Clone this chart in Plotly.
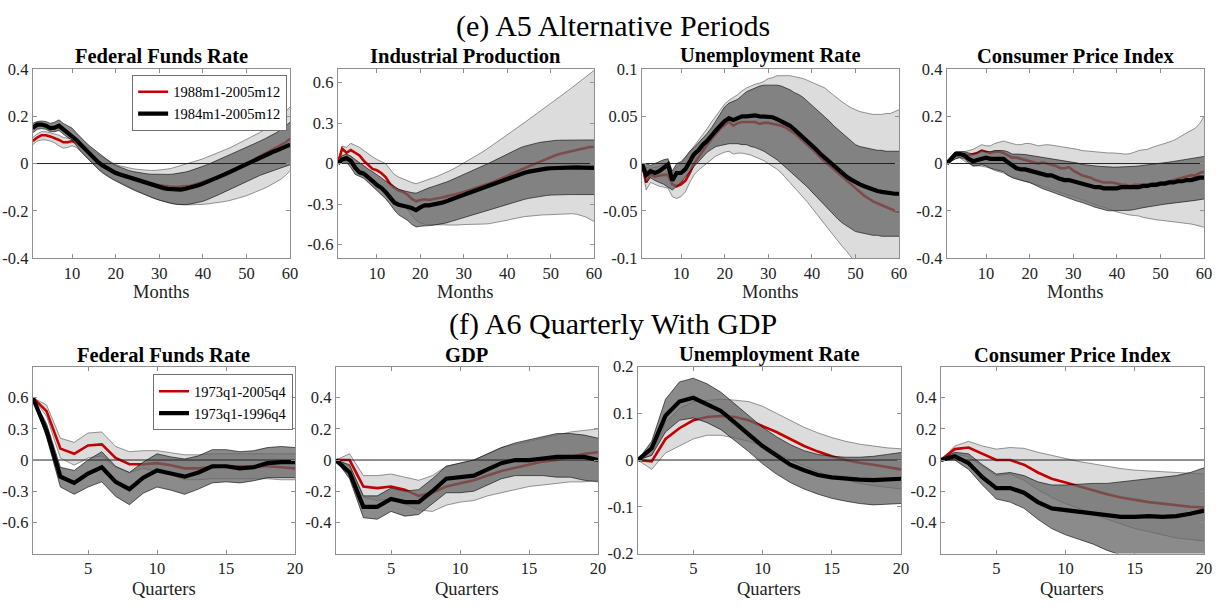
import plotly.graph_objects as go

MONTHS = list(range(1, 61))
QUARTERS = list(range(1, 21))

# ---------------- (e) A5 Alternative Periods : monthly ----------------
FFR_M_RED = [0.095, 0.110, 0.120, 0.120, 0.115, 0.108, 0.100, 0.090, 0.090, 0.095,
             0.088, 0.074, 0.056, 0.038, 0.022, 0.007, -0.006, -0.017, -0.027, -0.036,
             -0.042, -0.048, -0.054, -0.060, -0.066, -0.072, -0.078, -0.083, -0.088, -0.092,
             -0.095, -0.097, -0.099, -0.100, -0.099, -0.097, -0.094, -0.090, -0.085, -0.080,
             -0.074, -0.067, -0.060, -0.052, -0.044, -0.036, -0.027, -0.018, -0.009, 0.000,
             0.010, 0.020, 0.030, 0.040, 0.050, 0.060, 0.070, 0.080, 0.090, 0.105]
FFR_M_BLACK = [0.150, 0.165, 0.165, 0.160, 0.150, 0.152, 0.160, 0.145, 0.130, 0.120,
               0.100, 0.080, 0.060, 0.040, 0.022, 0.006, -0.008, -0.020, -0.030, -0.040,
               -0.046, -0.052, -0.058, -0.065, -0.071, -0.077, -0.083, -0.089, -0.095, -0.100,
               -0.104, -0.107, -0.109, -0.110, -0.110, -0.107, -0.103, -0.098, -0.092, -0.085,
               -0.078, -0.070, -0.062, -0.054, -0.046, -0.037, -0.028, -0.019, -0.010, -0.001,
               0.008, 0.017, 0.025, 0.033, 0.041, 0.049, 0.056, 0.064, 0.071, 0.080]
FFR_M_LIGHT_UP = [0.110, 0.125, 0.135, 0.135, 0.130, 0.125, 0.120, 0.110, 0.108, 0.110,
                  0.105, 0.092, 0.078, 0.063, 0.050, 0.038, 0.026, 0.015, 0.005, -0.004,
                  -0.010, -0.015, -0.019, -0.022, -0.025, -0.027, -0.028, -0.029, -0.029, -0.028,
                  -0.026, -0.023, -0.019, -0.014, -0.009, -0.004, 0.002, 0.008, 0.014, 0.020,
                  0.027, 0.034, 0.041, 0.049, 0.057, 0.065, 0.074, 0.083, 0.092, 0.101,
                  0.111, 0.121, 0.131, 0.142, 0.153, 0.166, 0.180, 0.200, 0.220, 0.240]
FFR_M_LIGHT_LO = [0.080, 0.095, 0.100, 0.100, 0.095, 0.088, 0.075, 0.065, 0.068, 0.075,
                  0.068, 0.052, 0.034, 0.015, -0.004, -0.020, -0.035, -0.048, -0.060, -0.070,
                  -0.080, -0.089, -0.098, -0.107, -0.116, -0.125, -0.133, -0.141, -0.148, -0.155,
                  -0.160, -0.165, -0.169, -0.172, -0.174, -0.175, -0.175, -0.175, -0.174, -0.173,
                  -0.171, -0.169, -0.167, -0.164, -0.161, -0.157, -0.153, -0.148, -0.142, -0.136,
                  -0.129, -0.122, -0.114, -0.106, -0.097, -0.087, -0.077, -0.065, -0.050, -0.030]
FFR_M_DARK_UP = [0.170, 0.178, 0.180, 0.178, 0.170, 0.175, 0.185, 0.170, 0.160, 0.150,
                 0.130, 0.110, 0.092, 0.075, 0.060, 0.045, 0.030, 0.015, 0.003, -0.008,
                 -0.016, -0.023, -0.029, -0.034, -0.038, -0.041, -0.043, -0.045, -0.046, -0.046,
                 -0.046, -0.046, -0.045, -0.043, -0.040, -0.036, -0.031, -0.025, -0.019, -0.012,
                 -0.005, 0.003, 0.011, 0.019, 0.027, 0.035, 0.043, 0.051, 0.059, 0.067,
                 0.076, 0.085, 0.094, 0.103, 0.112, 0.122, 0.132, 0.145, 0.160, 0.175]
FFR_M_DARK_LO = [0.130, 0.145, 0.148, 0.145, 0.135, 0.135, 0.140, 0.125, 0.110, 0.100,
                 0.075, 0.052, 0.032, 0.012, -0.007, -0.024, -0.040, -0.053, -0.064, -0.074,
                 -0.084, -0.093, -0.102, -0.111, -0.119, -0.127, -0.135, -0.142, -0.149, -0.155,
                 -0.161, -0.166, -0.170, -0.173, -0.175, -0.174, -0.172, -0.169, -0.165, -0.160,
                 -0.153, -0.146, -0.138, -0.129, -0.120, -0.111, -0.102, -0.093, -0.084, -0.075,
                 -0.067, -0.059, -0.051, -0.044, -0.037, -0.030, -0.023, -0.016, -0.010, -0.005]

IP_M_RED = [0.000, 0.110, 0.080, 0.100, 0.080, 0.060, 0.020, -0.010, -0.040, -0.050,
            -0.070, -0.100, -0.150, -0.180, -0.200, -0.210, -0.230, -0.260, -0.280, -0.270,
            -0.265, -0.270, -0.262, -0.257, -0.252, -0.245, -0.238, -0.230, -0.220, -0.210,
            -0.200, -0.190, -0.180, -0.170, -0.160, -0.148, -0.135, -0.120, -0.105, -0.090,
            -0.076, -0.062, -0.048, -0.034, -0.020, -0.008, 0.006, 0.020, 0.034, 0.048,
            0.060, 0.070, 0.078, 0.086, 0.094, 0.102, 0.110, 0.118, 0.122, 0.123]
IP_M_BLACK = [0.000, 0.030, 0.040, 0.020, -0.030, -0.065, -0.075, -0.100, -0.130, -0.160,
              -0.180, -0.210, -0.250, -0.290, -0.305, -0.310, -0.320, -0.330, -0.345, -0.325,
              -0.310, -0.310, -0.305, -0.298, -0.290, -0.280, -0.270, -0.257, -0.244, -0.232,
              -0.220, -0.208, -0.196, -0.184, -0.172, -0.160, -0.148, -0.135, -0.122, -0.110,
              -0.098, -0.087, -0.077, -0.068, -0.060, -0.053, -0.047, -0.042, -0.038, -0.035,
              -0.033, -0.031, -0.030, -0.029, -0.029, -0.029, -0.030, -0.030, -0.031, -0.032]
IP_M_LIGHT_UP = [0.000, 0.130, 0.120, 0.150, 0.135, 0.120, 0.095, 0.070, 0.050, 0.030,
                 0.015, 0.000, -0.040, -0.080, -0.100, -0.115, -0.128, -0.140, -0.150, -0.140,
                 -0.128, -0.115, -0.105, -0.093, -0.080, -0.065, -0.050, -0.033, -0.015, 0.005,
                 0.023, 0.042, 0.060, 0.080, 0.100, 0.122, 0.144, 0.166, 0.188, 0.210,
                 0.233, 0.256, 0.280, 0.304, 0.328, 0.351, 0.374, 0.397, 0.420, 0.443,
                 0.467, 0.491, 0.515, 0.540, 0.565, 0.590, 0.615, 0.640, 0.665, 0.690]
IP_M_LIGHT_LO = [0.000, 0.040, 0.050, 0.020, -0.020, -0.050, -0.080, -0.100, -0.120, -0.140,
                 -0.170, -0.205, -0.240, -0.265, -0.285, -0.305, -0.340, -0.380, -0.420, -0.440,
                 -0.450, -0.452, -0.454, -0.455, -0.455, -0.455, -0.456, -0.457, -0.455, -0.452,
                 -0.452, -0.451, -0.450, -0.450, -0.448, -0.445, -0.440, -0.433, -0.426, -0.420,
                 -0.412, -0.405, -0.398, -0.393, -0.390, -0.386, -0.383, -0.381, -0.380, -0.378,
                 -0.376, -0.374, -0.372, -0.371, -0.372, -0.376, -0.383, -0.395, -0.412, -0.430]
IP_M_DARK_UP = [0.000, 0.060, 0.070, 0.055, 0.030, 0.005, -0.020, -0.040, -0.060, -0.080,
                -0.105, -0.130, -0.150, -0.170, -0.190, -0.200, -0.210, -0.215, -0.220, -0.205,
                -0.190, -0.180, -0.170, -0.160, -0.150, -0.137, -0.124, -0.110, -0.095, -0.080,
                -0.066, -0.052, -0.038, -0.024, -0.010, 0.006, 0.022, 0.038, 0.055, 0.075,
                0.090, 0.104, 0.117, 0.128, 0.138, 0.146, 0.153, 0.159, 0.164, 0.168,
                0.171, 0.173, 0.174, 0.175, 0.175, 0.175, 0.175, 0.175, 0.175, 0.175]
IP_M_DARK_LO = [0.000, 0.010, 0.010, -0.030, -0.080, -0.095, -0.110, -0.140, -0.170, -0.200,
                -0.225, -0.260, -0.300, -0.345, -0.380, -0.400, -0.420, -0.450, -0.470, -0.465,
                -0.460, -0.460, -0.457, -0.453, -0.448, -0.440, -0.430, -0.420, -0.410, -0.400,
                -0.390, -0.380, -0.370, -0.360, -0.350, -0.340, -0.330, -0.320, -0.310, -0.300,
                -0.291, -0.282, -0.273, -0.265, -0.258, -0.252, -0.246, -0.241, -0.237, -0.234,
                -0.232, -0.231, -0.230, -0.230, -0.230, -0.230, -0.230, -0.230, -0.230, -0.230]

UR_M_RED = [0.000, -0.020, -0.012, -0.014, -0.013, -0.012, -0.012, -0.022, -0.024, -0.022,
            -0.018, -0.010, 0.000, 0.007, 0.014, 0.020, 0.026, 0.032, 0.037, 0.041,
            0.044, 0.040, 0.043, 0.044, 0.044, 0.044, 0.044, 0.042, 0.043, 0.043,
            0.042, 0.041, 0.040, 0.038, 0.035, 0.032, 0.028, 0.024, 0.020, 0.016,
            0.011, 0.006, 0.002, -0.002, -0.006, -0.011, -0.015, -0.019, -0.023, -0.027,
            -0.030, -0.034, -0.037, -0.040, -0.042, -0.044, -0.046, -0.048, -0.050, -0.051]
UR_M_BLACK = [0.000, -0.012, -0.008, -0.010, -0.008, -0.005, -0.001, -0.018, -0.010, -0.010,
              -0.006, 0.002, 0.010, 0.014, 0.020, 0.024, 0.030, 0.035, 0.040, 0.045,
              0.048, 0.046, 0.048, 0.050, 0.050, 0.051, 0.051, 0.050, 0.050, 0.050,
              0.049, 0.047, 0.045, 0.043, 0.040, 0.036, 0.032, 0.028, 0.024, 0.020,
              0.015, 0.010, 0.006, 0.002, -0.003, -0.007, -0.011, -0.014, -0.017, -0.020,
              -0.022, -0.024, -0.026, -0.028, -0.029, -0.030, -0.031, -0.032, -0.032, -0.032]
UR_M_LIGHT_UP = [0.000, -0.004, -0.005, -0.004, -0.003, -0.001, 0.000, -0.010, -0.004, 0.000,
                 0.006, 0.012, 0.018, 0.024, 0.030, 0.037, 0.044, 0.050, 0.057, 0.063,
                 0.067, 0.070, 0.073, 0.077, 0.080, 0.082, 0.084, 0.085, 0.087, 0.090,
                 0.091, 0.093, 0.093, 0.093, 0.093, 0.092, 0.091, 0.090, 0.088, 0.086,
                 0.084, 0.082, 0.080, 0.076, 0.072, 0.069, 0.065, 0.062, 0.059, 0.057,
                 0.055, 0.054, 0.053, 0.052, 0.052, 0.052, 0.053, 0.053, 0.055, 0.057]
UR_M_LIGHT_LO = [0.000, -0.028, -0.020, -0.022, -0.024, -0.025, -0.026, -0.035, -0.037, -0.035,
                 -0.030, -0.020, -0.012, -0.007, -0.003, 0.001, 0.005, 0.008, 0.010, 0.012,
                 0.013, 0.010, 0.011, 0.011, 0.010, 0.009, 0.007, 0.005, 0.003, 0.000,
                 -0.003, -0.006, -0.010, -0.015, -0.020, -0.025, -0.030, -0.035, -0.041, -0.047,
                 -0.053, -0.059, -0.065, -0.071, -0.077, -0.082, -0.088, -0.093, -0.099, -0.105,
                 -0.109, -0.113, -0.117, -0.121, -0.125, -0.128, -0.131, -0.134, -0.137, -0.140]
UR_M_DARK_UP = [0.000, 0.000, -0.002, 0.000, 0.002, 0.004, 0.005, -0.008, 0.000, 0.002,
                0.007, 0.013, 0.017, 0.022, 0.026, 0.032, 0.038, 0.045, 0.053, 0.060,
                0.064, 0.066, 0.068, 0.072, 0.076, 0.078, 0.080, 0.082, 0.083, 0.083,
                0.083, 0.083, 0.082, 0.080, 0.078, 0.075, 0.073, 0.070, 0.066, 0.062,
                0.058, 0.054, 0.050, 0.045, 0.040, 0.036, 0.031, 0.027, 0.023, 0.020,
                0.018, 0.017, 0.016, 0.015, 0.014, 0.014, 0.013, 0.013, 0.013, 0.013]
UR_M_DARK_LO = [0.000, -0.020, -0.015, -0.018, -0.020, -0.022, -0.025, -0.028, -0.024, -0.020,
                -0.014, -0.008, -0.003, 0.002, 0.007, 0.012, 0.015, 0.018, 0.019, 0.020,
                0.021, 0.021, 0.021, 0.020, 0.020, 0.018, 0.017, 0.015, 0.013, 0.010,
                0.007, 0.004, 0.000, -0.004, -0.008, -0.012, -0.016, -0.020, -0.025, -0.030,
                -0.035, -0.040, -0.045, -0.050, -0.055, -0.059, -0.063, -0.066, -0.069, -0.072,
                -0.073, -0.074, -0.075, -0.076, -0.076, -0.077, -0.077, -0.077, -0.077, -0.077]

CPI_M_RED = [0.000, 0.020, 0.040, 0.040, 0.035, 0.035, 0.040, 0.045, 0.055, 0.050,
             0.045, 0.050, 0.050, 0.045, 0.035, 0.025, 0.025, 0.020, 0.015, 0.010,
             0.005, 0.000, 0.005, 0.000, -0.005, -0.010, -0.020, -0.020, -0.015, -0.030,
             -0.040, -0.050, -0.055, -0.060, -0.070, -0.075, -0.080, -0.080, -0.080, -0.085,
             -0.090, -0.090, -0.095, -0.090, -0.090, -0.090, -0.090, -0.085, -0.085, -0.080,
             -0.080, -0.075, -0.070, -0.065, -0.060, -0.055, -0.050, -0.050, -0.040, -0.035]
CPI_M_BLACK = [0.000, 0.020, 0.040, 0.040, 0.035, 0.020, 0.010, 0.015, 0.020, 0.025,
               0.020, 0.020, 0.020, 0.020, 0.005, -0.010, -0.020, -0.025, -0.025, -0.030,
               -0.035, -0.040, -0.045, -0.050, -0.050, -0.060, -0.065, -0.070, -0.070, -0.075,
               -0.080, -0.085, -0.090, -0.095, -0.100, -0.100, -0.105, -0.105, -0.105, -0.105,
               -0.100, -0.100, -0.100, -0.100, -0.100, -0.095, -0.095, -0.090, -0.090, -0.085,
               -0.085, -0.080, -0.080, -0.075, -0.075, -0.070, -0.070, -0.065, -0.060, -0.060]
CPI_M_LIGHT_UP = [0.000, 0.030, 0.050, 0.050, 0.050, 0.055, 0.060, 0.070, 0.080, 0.075,
                  0.075, 0.085, 0.090, 0.095, 0.090, 0.085, 0.080, 0.080, 0.085, 0.085,
                  0.080, 0.075, 0.078, 0.080, 0.078, 0.075, 0.072, 0.070, 0.068, 0.065,
                  0.060, 0.055, 0.053, 0.050, 0.050, 0.048, 0.046, 0.045, 0.045, 0.045,
                  0.042, 0.040, 0.042, 0.048, 0.055, 0.058, 0.060, 0.068, 0.075, 0.080,
                  0.085, 0.090, 0.098, 0.108, 0.120, 0.130, 0.140, 0.150, 0.170, 0.200]
CPI_M_LIGHT_LO = [0.000, 0.010, 0.020, 0.025, 0.010, 0.000, -0.010, -0.008, -0.010, -0.015,
                  -0.020, -0.030, -0.035, -0.040, -0.050, -0.055, -0.062, -0.070, -0.075, -0.080,
                  -0.085, -0.090, -0.097, -0.103, -0.110, -0.117, -0.123, -0.130, -0.135, -0.140,
                  -0.147, -0.153, -0.160, -0.168, -0.175, -0.180, -0.185, -0.190, -0.198, -0.205,
                  -0.210, -0.215, -0.218, -0.220, -0.222, -0.228, -0.232, -0.235, -0.238, -0.240,
                  -0.242, -0.244, -0.245, -0.247, -0.250, -0.253, -0.256, -0.260, -0.265, -0.270]
CPI_M_DARK_UP = [0.000, 0.030, 0.050, 0.050, 0.050, 0.045, 0.040, 0.045, 0.055, 0.050,
                 0.050, 0.055, 0.055, 0.055, 0.050, 0.040, 0.040, 0.040, 0.038, 0.035,
                 0.032, 0.030, 0.027, 0.023, 0.020, 0.017, 0.013, 0.010, 0.008, 0.005,
                 0.002, -0.004, -0.007, -0.009, -0.010, -0.012, -0.014, -0.015, -0.015, -0.015,
                 -0.015, -0.015, -0.014, -0.012, -0.010, -0.008, -0.006, -0.005, -0.003, 0.000,
                 0.003, 0.006, 0.009, 0.012, 0.015, 0.018, 0.021, 0.024, 0.027, 0.030]
CPI_M_DARK_LO = [0.000, 0.010, 0.020, 0.025, 0.020, 0.005, -0.010, -0.010, -0.005, -0.010,
                 -0.020, -0.025, -0.030, -0.035, -0.050, -0.060, -0.066, -0.072, -0.076, -0.080,
                 -0.090, -0.100, -0.107, -0.113, -0.120, -0.127, -0.133, -0.140, -0.148, -0.155,
                 -0.160, -0.165, -0.170, -0.178, -0.185, -0.190, -0.195, -0.200, -0.200, -0.200,
                 -0.200, -0.200, -0.198, -0.195, -0.190, -0.187, -0.184, -0.180, -0.178, -0.175,
                 -0.172, -0.170, -0.168, -0.166, -0.165, -0.162, -0.159, -0.156, -0.153, -0.150]

# ---------------- (f) A6 Quarterly With GDP ----------------
FFR_Q_RED = [0.60, 0.47, 0.11, 0.06, 0.14, 0.15, 0.02, -0.04, -0.04, -0.03,
             -0.05, -0.08, -0.08, -0.07, -0.06, -0.06, -0.06, -0.06, -0.07, -0.08]
FFR_Q_BLACK = [0.60, 0.28, -0.16, -0.22, -0.13, -0.07, -0.21, -0.28, -0.17, -0.10,
               -0.13, -0.16, -0.12, -0.06, -0.06, -0.08, -0.07, -0.03, -0.02, -0.02]
FFR_Q_LIGHT_UP = [0.60, 0.53, 0.21, 0.17, 0.26, 0.27, 0.13, 0.08, 0.09, 0.09,
                  0.07, 0.05, 0.05, 0.06, 0.06, 0.06, 0.06, 0.06, 0.06, 0.06]
FFR_Q_LIGHT_LO = [0.60, 0.42, 0.02, -0.05, 0.02, 0.04, -0.07, -0.12, -0.08, -0.11,
                  -0.14, -0.19, -0.19, -0.18, -0.18, -0.18, -0.18, -0.18, -0.19, -0.19]
FFR_Q_DARK_UP = [0.60, 0.35, -0.07, -0.10, 0.00, 0.08, -0.06, -0.12, -0.02, 0.06,
                 0.03, 0.01, 0.04, 0.10, 0.10, 0.08, 0.09, 0.12, 0.13, 0.12]
FFR_Q_DARK_LO = [0.60, 0.22, -0.26, -0.33, -0.26, -0.21, -0.35, -0.43, -0.32, -0.26,
                 -0.29, -0.33, -0.28, -0.22, -0.21, -0.22, -0.20, -0.17, -0.17, -0.17]

GDP_Q_RED = [0.00, 0.00, -0.17, -0.18, -0.17, -0.19, -0.23, -0.21, -0.17, -0.15,
             -0.13, -0.10, -0.07, -0.05, -0.03, -0.01, 0.00, 0.02, 0.04, 0.05]
GDP_Q_BLACK = [0.00, -0.08, -0.30, -0.30, -0.25, -0.27, -0.27, -0.20, -0.12, -0.11,
               -0.10, -0.06, -0.02, 0.00, 0.00, 0.01, 0.02, 0.02, 0.02, 0.00]
GDP_Q_LIGHT_UP = [0.00, 0.04, -0.10, -0.10, -0.09, -0.11, -0.13, -0.10, -0.04, -0.02,
                  0.00, 0.04, 0.08, 0.10, 0.12, 0.14, 0.16, 0.18, 0.19, 0.20]
GDP_Q_LIGHT_LO = [0.00, -0.04, -0.24, -0.26, -0.25, -0.28, -0.32, -0.33, -0.29, -0.27,
                  -0.26, -0.23, -0.21, -0.19, -0.17, -0.16, -0.15, -0.14, -0.14, -0.13]
GDP_Q_DARK_UP = [0.00, -0.03, -0.23, -0.23, -0.18, -0.20, -0.19, -0.12, -0.04, -0.02,
                 0.00, 0.04, 0.08, 0.11, 0.13, 0.15, 0.17, 0.17, 0.16, 0.14]
GDP_Q_DARK_LO = [0.00, -0.12, -0.37, -0.38, -0.33, -0.36, -0.35, -0.28, -0.21, -0.21,
                 -0.20, -0.16, -0.12, -0.10, -0.10, -0.10, -0.11, -0.11, -0.13, -0.14]

UR_Q_RED = [0.000, -0.003, 0.045, 0.068, 0.085, 0.092, 0.094, 0.092, 0.085, 0.073,
            0.060, 0.045, 0.030, 0.018, 0.008, 0.000, -0.006, -0.010, -0.015, -0.020]
UR_Q_BLACK = [0.000, 0.025, 0.095, 0.125, 0.133, 0.120, 0.105, 0.080, 0.055, 0.030,
              0.010, -0.010, -0.022, -0.032, -0.037, -0.040, -0.042, -0.043, -0.042, -0.040]
UR_Q_LIGHT_UP = [0.000, 0.010, 0.080, 0.110, 0.125, 0.128, 0.130, 0.128, 0.125, 0.115,
                 0.100, 0.085, 0.070, 0.058, 0.048, 0.040, 0.034, 0.030, 0.026, 0.024]
UR_Q_LIGHT_LO = [0.000, -0.020, 0.015, 0.030, 0.045, 0.053, 0.053, 0.047, 0.040, 0.030,
                 0.015, 0.000, -0.012, -0.025, -0.035, -0.043, -0.050, -0.055, -0.058, -0.062]
UR_Q_DARK_UP = [0.000, 0.040, 0.130, 0.167, 0.175, 0.163, 0.145, 0.120, 0.095, 0.070,
                0.050, 0.033, 0.020, 0.012, 0.008, 0.006, 0.006, 0.008, 0.012, 0.016]
UR_Q_DARK_LO = [0.000, 0.010, 0.060, 0.085, 0.090, 0.080, 0.065, 0.042, 0.018, -0.008,
                -0.030, -0.048, -0.062, -0.073, -0.082, -0.088, -0.093, -0.096, -0.095, -0.093]

CPI_Q_RED = [0.000, 0.070, 0.080, 0.040, 0.000, 0.000, -0.030, -0.080, -0.120, -0.145,
             -0.170, -0.195, -0.220, -0.240, -0.255, -0.270, -0.280, -0.290, -0.300, -0.305]
CPI_Q_BLACK = [0.000, 0.025, -0.020, -0.110, -0.180, -0.180, -0.210, -0.270, -0.310, -0.320,
               -0.330, -0.340, -0.355, -0.365, -0.365, -0.360, -0.365, -0.360, -0.345, -0.325]
CPI_Q_LIGHT_UP = [0.000, 0.090, 0.120, 0.090, 0.070, 0.080, 0.075, 0.050, 0.030, 0.010,
                  -0.010, -0.025, -0.040, -0.055, -0.065, -0.070, -0.075, -0.080, -0.085, -0.090]
CPI_Q_LIGHT_LO = [0.000, 0.040, 0.020, -0.040, -0.100, -0.090, -0.130, -0.190, -0.240, -0.280,
                  -0.310, -0.350, -0.380, -0.410, -0.440, -0.460, -0.480, -0.500, -0.510, -0.520]
CPI_Q_DARK_UP = [0.000, 0.050, 0.040, -0.030, -0.090, -0.080, -0.100, -0.140, -0.160, -0.160,
                 -0.155, -0.150, -0.150, -0.140, -0.130, -0.120, -0.110, -0.100, -0.080, -0.050]
CPI_Q_DARK_LO = [0.000, 0.000, -0.060, -0.160, -0.250, -0.270, -0.310, -0.380, -0.440, -0.480,
                 -0.510, -0.540, -0.580, -0.610, -0.640, -0.660, -0.690, -0.710, -0.740, -0.760]

# tick labels
M_XTICKS = [10, 20, 30, 40, 50, 60]
Q_XTICKS = [5, 10, 15, 20]
YT_04 = [-0.4, -0.2, 0, 0.2, 0.4]
YT_04_TXT = ["-0.4", "-0.2", "0", "0.2", "0.4"]
YT_06 = [-0.6, -0.3, 0, 0.3, 0.6]
YT_06_TXT = ["-0.6", "-0.3", "0", "0.3", "0.6"]
YT_01 = [-0.1, -0.05, 0, 0.05, 0.1]
YT_01_TXT = ["-0.1", "-0.05", "0", "0.05", "0.1"]
YT_02 = [-0.2, -0.1, 0, 0.1, 0.2]
YT_02_TXT = ["-0.2", "-0.1", "0", "0.1", "0.2"]

LEG_E = ["1988m1-2005m12", "1984m1-2005m12"]
LEG_F = ["1973q1-2005q4", "1973q1-1996q4"]

panels = [
    dict(title="Federal Funds Rate", x=MONTHS, red=FFR_M_RED, black=FFR_M_BLACK,
         lu=FFR_M_LIGHT_UP, ll=FFR_M_LIGHT_LO, du=FFR_M_DARK_UP, dl=FFR_M_DARK_LO,
         yr=[-0.4, 0.4], yt=YT_04, ytt=YT_04_TXT, xt=M_XTICKS, xtitle="Months", leg="legend", names=LEG_E),
    dict(title="Industrial Production", x=MONTHS, red=IP_M_RED, black=IP_M_BLACK,
         lu=IP_M_LIGHT_UP, ll=IP_M_LIGHT_LO, du=IP_M_DARK_UP, dl=IP_M_DARK_LO,
         yr=[-0.7, 0.7], yt=YT_06, ytt=YT_06_TXT, xt=M_XTICKS, xtitle="Months", leg=None, names=LEG_E),
    dict(title="Unemployment Rate", x=MONTHS, red=UR_M_RED, black=UR_M_BLACK,
         lu=UR_M_LIGHT_UP, ll=UR_M_LIGHT_LO, du=UR_M_DARK_UP, dl=UR_M_DARK_LO,
         yr=[-0.1, 0.1], yt=YT_01, ytt=YT_01_TXT, xt=M_XTICKS, xtitle="Months", leg=None, names=LEG_E),
    dict(title="Consumer Price Index", x=MONTHS, red=CPI_M_RED, black=CPI_M_BLACK,
         lu=CPI_M_LIGHT_UP, ll=CPI_M_LIGHT_LO, du=CPI_M_DARK_UP, dl=CPI_M_DARK_LO,
         yr=[-0.4, 0.4], yt=YT_04, ytt=YT_04_TXT, xt=M_XTICKS, xtitle="Months", leg=None, names=LEG_E),
    dict(title="Federal Funds Rate", x=QUARTERS, red=FFR_Q_RED, black=FFR_Q_BLACK,
         lu=FFR_Q_LIGHT_UP, ll=FFR_Q_LIGHT_LO, du=FFR_Q_DARK_UP, dl=FFR_Q_DARK_LO,
         yr=[-0.9, 0.9], yt=YT_06, ytt=YT_06_TXT, xt=Q_XTICKS, xtitle="Quarters", leg="legend2", names=LEG_F),
    dict(title="GDP", x=QUARTERS, red=GDP_Q_RED, black=GDP_Q_BLACK,
         lu=GDP_Q_LIGHT_UP, ll=GDP_Q_LIGHT_LO, du=GDP_Q_DARK_UP, dl=GDP_Q_DARK_LO,
         yr=[-0.6, 0.6], yt=YT_04, ytt=YT_04_TXT, xt=Q_XTICKS, xtitle="Quarters", leg=None, names=LEG_F),
    dict(title="Unemployment Rate", x=QUARTERS, red=UR_Q_RED, black=UR_Q_BLACK,
         lu=UR_Q_LIGHT_UP, ll=UR_Q_LIGHT_LO, du=UR_Q_DARK_UP, dl=UR_Q_DARK_LO,
         yr=[-0.2, 0.2], yt=YT_02, ytt=YT_02_TXT, xt=Q_XTICKS, xtitle="Quarters", leg=None, names=LEG_F),
    dict(title="Consumer Price Index", x=QUARTERS, red=CPI_Q_RED, black=CPI_Q_BLACK,
         lu=CPI_Q_LIGHT_UP, ll=CPI_Q_LIGHT_LO, du=CPI_Q_DARK_UP, dl=CPI_Q_DARK_LO,
         yr=[-0.6, 0.6], yt=YT_04, ytt=YT_04_TXT, xt=Q_XTICKS, xtitle="Quarters", leg=None, names=LEG_F),
]

# ---------------- layout geometry (pixels in a 1229 x 611 page) ----------------
W, H = 1229, 611
PX_X = [(33, 292), (340, 598), (646, 905), (953, 1212),
        (33, 297), (338, 602), (642, 907), (947, 1212)]
PX_Y = [(62, 257)] * 4 + [(369, 562)] * 4
TITLE_Y = [48] * 4 + [357] * 4
XTITLE_Y = [292] * 4 + [599] * 4

SERIF = "Liberation Serif, Times New Roman, serif"
RED = "#c40000"
LIGHT = "#dcdcdc"
DARK = "rgba(100,100,100,0.75)"
FRAME = "#8f8f8f"

fig = go.Figure()
annotations = []
layout_axes = {}

for i, p in enumerate(panels):
    k = "" if i == 0 else str(i + 1)
    xa, ya = "x" + k, "y" + k
    x = p["x"]
    common = dict(xaxis=xa, yaxis=ya, hoverinfo="skip", mode="lines")
    # light band (red-series confidence band)
    fig.add_trace(go.Scatter(x=x, y=p["ll"], line=dict(color="#505050", width=0.6),
                             showlegend=False, **common))
    fig.add_trace(go.Scatter(x=x, y=p["lu"], line=dict(color="#505050", width=0.6),
                             fill="tonexty", fillcolor=LIGHT, showlegend=False, **common))
    # red line
    fig.add_trace(go.Scatter(x=x, y=p["red"], line=dict(color=RED, width=2.6),
                             name=p["names"][0], showlegend=p["leg"] is not None,
                             legend=p["leg"] or "legend", **common))
    # dark band (black-series confidence band)
    fig.add_trace(go.Scatter(x=x, y=p["dl"], line=dict(color="#000000", width=0.6),
                             showlegend=False, **common))
    fig.add_trace(go.Scatter(x=x, y=p["du"], line=dict(color="#000000", width=0.6),
                             fill="tonexty", fillcolor=DARK, showlegend=False, **common))
    # zero reference line
    fig.add_trace(go.Scatter(x=[x[0], x[-1]], y=[0, 0], line=dict(color="#222222", width=1),
                             showlegend=False, **common))
    # black line
    fig.add_trace(go.Scatter(x=x, y=p["black"], line=dict(color="#000000", width=4.2),
                             name=p["names"][1], showlegend=p["leg"] is not None,
                             legend=p["leg"] or "legend", **common))

    x0, x1 = PX_X[i]
    y0, y1 = PX_Y[i]
    xdom = [x0 / W, x1 / W]
    ydom = [1 - y1 / H, 1 - y0 / H]
    layout_axes["xaxis" + k] = dict(
        domain=xdom, anchor=ya, range=[x[0], x[-1]], tickvals=p["xt"],
        ticktext=[str(v) for v in p["xt"]], ticks="inside", ticklen=4, tickcolor=FRAME,
        showline=True, linecolor=FRAME, linewidth=1, mirror="ticks", showgrid=False,
        zeroline=False, tickfont=dict(family=SERIF, size=16.5, color="#222"))
    layout_axes["yaxis" + k] = dict(
        domain=ydom, anchor=xa, range=p["yr"], tickvals=p["yt"], ticktext=p["ytt"],
        ticks="inside", ticklen=4, tickcolor=FRAME, showline=True, linecolor=FRAME,
        linewidth=1, mirror="ticks", showgrid=False, zeroline=False,
        tickfont=dict(family=SERIF, size=16.5, color="#222"))
    cx = (x0 + x1) / 2 / W
    annotations.append(dict(text="<b>" + p["title"] + "</b>", x=cx, y=1 - TITLE_Y[i] / H,
                            xref="paper", yref="paper", showarrow=False, xanchor="center",
                            yanchor="middle", font=dict(family=SERIF, size=20.5, color="#000")))
    annotations.append(dict(text=p["xtitle"], x=cx, y=1 - XTITLE_Y[i] / H,
                            xref="paper", yref="paper", showarrow=False, xanchor="center",
                            yanchor="middle", font=dict(family=SERIF, size=18.5, color="#222")))

annotations.append(dict(text="(e) A5 Alternative Periods", x=0.502, y=1 - 18 / H, xref="paper",
                        yref="paper", showarrow=False, xanchor="center", yanchor="middle",
                        font=dict(family=SERIF, size=30, color="#000")))
annotations.append(dict(text="(f) A6 Quarterly With GDP", x=0.502, y=1 - 325 / H, xref="paper",
                        yref="paper", showarrow=False, xanchor="center", yanchor="middle",
                        font=dict(family=SERIF, size=30, color="#000")))

legend_style = dict(bgcolor="white", bordercolor="#707070", borderwidth=1,
                    font=dict(family=SERIF, size=14.5, color="#000"), xanchor="left",
                    yanchor="top", tracegroupgap=0, itemwidth=30, traceorder="normal")

fig.update_layout(
    width=W, height=H, margin=dict(l=0, r=0, t=0, b=0),
    paper_bgcolor="white", plot_bgcolor="white",
    annotations=annotations,
    legend=dict(x=133 / W, y=1 - 68 / H, **legend_style),
    legend2=dict(x=154 / W, y=1 - 377 / H, **legend_style),
    **layout_axes,
)

fig.write_html("out.html")
